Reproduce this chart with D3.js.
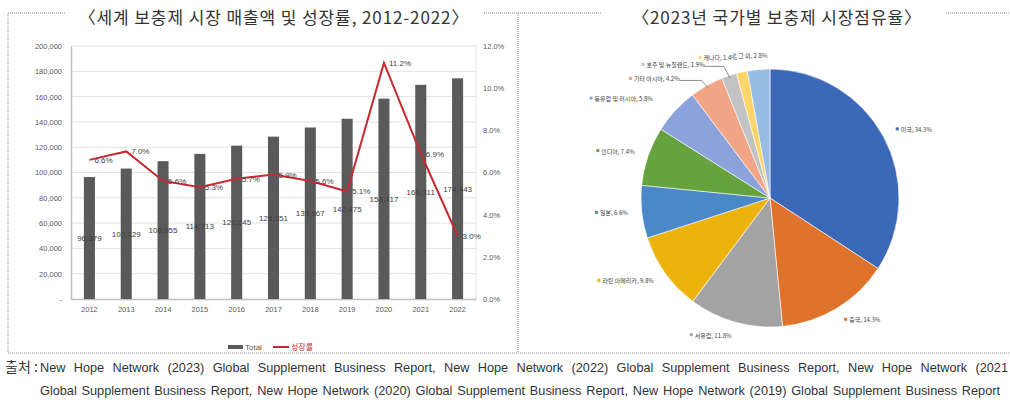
<!DOCTYPE html>
<html>
<head>
<meta charset="utf-8">
<script src="https://cdn.jsdelivr.net/npm/d3@7"></script>
<style>
  body { margin: 0; background: #fff; }
  svg { display: block; }
</style>
</head>
<body>
<div class="canvas"></div>
<script>
// bar + line chart data
const years = ['2012','2013','2014','2015','2016','2017','2018','2019','2020','2021','2022']
const totals = [96379, 103129, 108955, 114713, 121245, 128351, 135567, 142475, 158417, 169311, 174443]
const growth = [6.6, 7.0, 5.6, 5.3, 5.7, 5.9, 5.6, 5.1, 11.2, 6.9, 3.0]
const leftTicks = [0, 20000, 40000, 60000, 80000, 100000, 120000, 140000, 160000, 180000, 200000]
const rightTicks = [0, 2, 4, 6, 8, 10, 12]

// pie data
const countries = ['미국','중국','서유럽','라틴 아메리카','일본','인디아','동유럽 및 러시아','기타 아시아','호주 및 뉴질랜드','캐나다','그 외']
const shares = [34.3, 14.3, 11.8, 9.8, 6.6, 7.4, 5.8, 4.2, 1.9, 1.4, 2.8]
const pieColors = ['#3c68b8','#e0732b','#a3a3a3','#ebb30c','#4b88c8','#66a23e','#8ba3da','#f2a487','#c2c2c2','#fbd56a','#97bde6']

const W = 1010, H = 403
const svg = d3.select('.canvas').append('svg')
    .attr('width', W)
    .attr('height', H)

const cjk = '"Noto Sans CJK KR", sans-serif'
const small = '"Liberation Sans", "Noto Sans CJK KR", sans-serif'

//dotted panel frames
const frame = svg.append('g')
    .attr('stroke', '#8c8c8c')
    .attr('stroke-width', 1)
    .attr('stroke-dasharray', '1,1')
    .attr('fill', 'none')
frame.append('path').attr('d', 'M8,13H66 M484,13H602 M946,13H1010')
frame.append('path').attr('d', 'M8,13V353 M518,13V353')
frame.append('path').attr('d', 'M8,353H1010')

// titles
svg.append('text')
    .attr('x', 274).attr('y', 24)
    .attr('text-anchor', 'middle')
    .attr('fill', '#333')
    .style('font-family', cjk)
    .style('font-size', '17px')
    .style('letter-spacing', '0.9px')
    .text('〈세계 보충제 시장 매출액 및 성장률, 2012-2022〉')

svg.append('text')
    .attr('x', 777).attr('y', 24)
    .attr('text-anchor', 'middle')
    .attr('fill', '#333')
    .style('font-family', cjk)
    .style('font-size', '17px')
    .style('letter-spacing', '0.9px')
    .text('〈2023년 국가별 보충제 시장점유율〉')

// ---------- left chart ----------
const plot = { left: 71, right: 476, top: 46, bottom: 299 }

const x = d3.scaleBand().domain(years).range([plot.left, plot.right])
const yL = d3.scaleLinear().domain([0, 200000]).range([plot.bottom, plot.top])
const yR = d3.scaleLinear().domain([0, 12]).range([plot.bottom, plot.top])

const chart = svg.append('g')

//gridlines
chart.append('g')
    .selectAll('line')
    .data(leftTicks.slice(1))
    .join('line')
    .attr('x1', plot.left).attr('x2', plot.right)
    .attr('y1', d => yL(d)).attr('y2', d => yL(d))
    .attr('stroke', '#e3e3e3')
    .attr('stroke-width', 1)

chart.append('line')
    .attr('x1', plot.right).attr('x2', plot.right)
    .attr('y1', plot.top).attr('y2', plot.bottom)
    .attr('stroke', '#e3e3e3')

// left axis
const leftAxis = chart.append('g')
    .attr('transform', `translate(${plot.left},0)`)
    .call(d3.axisLeft(yL).tickValues(leftTicks).tickSize(0).tickPadding(9)
        .tickFormat(d => d === 0 ? '-' : d3.format(',')(d)))
leftAxis.select('.domain').attr('stroke', '#bfbfbf').attr('stroke-width', 1.5)
leftAxis.selectAll('text').attr('fill', '#595959').style('font-family', small).style('font-size', '7.5px')

// right axis
const rightAxis = chart.append('g')
    .attr('transform', `translate(${plot.right},0)`)
    .call(d3.axisRight(yR).tickValues(rightTicks).tickSize(0).tickPadding(7)
        .tickFormat(d => d.toFixed(1) + '%'))
rightAxis.select('.domain').remove()
rightAxis.selectAll('text').attr('fill', '#595959').style('font-family', small).style('font-size', '7.5px')

// bottom axis
const bottomAxis = chart.append('g')
    .attr('transform', `translate(0,${plot.bottom})`)
    .call(d3.axisBottom(x).tickSize(0).tickPadding(8))
bottomAxis.select('.domain').attr('stroke', '#bfbfbf').attr('stroke-width', 1.5)
bottomAxis.selectAll('text').attr('fill', '#595959').style('font-family', small).style('font-size', '7.5px')

// bars
const barW = x.bandwidth() * 0.3
chart.append('g')
    .selectAll('rect')
    .data(totals)
    .join('rect')
    .attr('x', (d, i) => x(years[i]) + (x.bandwidth() - barW) / 2)
    .attr('y', d => yL(d))
    .attr('width', barW)
    .attr('height', d => plot.bottom - yL(d))
    .attr('fill', '#5a5a5a')

// bar value labels
chart.append('g')
    .selectAll('text')
    .data(totals)
    .join('text')
    .attr('x', (d, i) => x(years[i]) + x.bandwidth() / 2)
    .attr('y', d => (yL(d) + plot.bottom) / 2 + 3)
    .attr('text-anchor', 'middle')
    .attr('fill', '#404040')
    .style('font-family', small)
    .style('font-size', '8px')
    .text(d => d3.format(',')(d))

// growth line
const line = d3.line()
    .x((d, i) => x(years[i]) + x.bandwidth() / 2)
    .y(d => yR(d))
chart.append('path')
    .datum(growth)
    .attr('d', line)
    .attr('fill', 'none')
    .attr('stroke', '#c62a31')
    .attr('stroke-width', 2)

chart.append('g')
    .selectAll('text')
    .data(growth)
    .join('text')
    .attr('x', (d, i) => x(years[i]) + x.bandwidth() / 2 + 5)
    .attr('y', d => yR(d) + 3)
    .attr('fill', '#404040')
    .style('font-family', small)
    .style('font-size', '8px')
    .text(d => d.toFixed(1) + '%')

// legend
const legend = chart.append('g').attr('transform', 'translate(228,347)')
legend.append('rect').attr('x', 0).attr('y', -2).attr('width', 15).attr('height', 4).attr('fill', '#5a5a5a')
legend.append('text').attr('x', 17).attr('y', 3)
    .attr('fill', '#595959').style('font-family', small).style('font-size', '8px').text('Total')
legend.append('line').attr('x1', 45).attr('x2', 61).attr('y1', 0).attr('y2', 0)
    .attr('stroke', '#c62a31').attr('stroke-width', 2)
legend.append('text').attr('x', 63).attr('y', 3)
    .attr('fill', '#c62a31').style('font-family', cjk).style('font-size', '8px').text('성장률')

// ---------- pie ----------
const cx = 770, cy = 198, r = 129
const pieG = svg.append('g').attr('transform', `translate(${cx},${cy})`)
const pie = d3.pie().sort(null).value(d => d)
const arcs = pie(shares)
const arc = d3.arc().innerRadius(0).outerRadius(r)

pieG.selectAll('path')
    .data(arcs)
    .join('path')
    .attr('d', arc)
    .attr('fill', (d, i) => pieColors[i])
    .attr('stroke', '#fff')
    .attr('stroke-width', 0.6)

// label nudges for crowded small slices (layout only)
const nudge = [[0,0],[0,0],[0,0],[0,0],[0,0],[0,0],[-12,-2],[-20,6],[-20,3],[-2,0],[10,0]]
const leader = [false,false,false,false,false,false,false,true,true,false,false]

arcs.forEach((d, i) => {
    const a = (d.startAngle + d.endAngle) / 2
    const R = r + 14
    let px = Math.sin(a) * R + nudge[i][0]
    let py = -Math.cos(a) * R + nudge[i][1]
    const right = Math.sin(a) > 0.05
    const g = pieG.append('g')
    const t = g.append('text')
        .attr('x', 5).attr('y', 2)
        .attr('fill', '#404040')
        .style('font-family', cjk)
        .style('font-size', '6px')
        .text(countries[i] + ', ' + shares[i].toFixed(1) + '%')
    g.append('rect').attr('x', 0).attr('y', -2.5).attr('width', 3).attr('height', 3).attr('fill', pieColors[i])
    const w = 5 + t.node().getComputedTextLength()
    const gx = right ? px : px - w
    g.attr('transform', `translate(${gx},${py})`)
    if (leader[i]) {
        const ex = Math.sin(a) * (r - 2), ey = -Math.cos(a) * (r - 2)
        pieG.append('polyline')
            .attr('points', `${px},${py + 1} ${ex - 6},${py + 1} ${ex},${ey}`)
            .attr('fill', 'none')
            .attr('stroke', '#404040')
            .attr('stroke-width', 0.6)
    }
})

// ---------- source note ----------
const notes = [
    { x0: 40, x1: 1008, text: 'New Hope Network (2023) Global Supplement Business Report, New Hope Network (2022) Global Supplement Business Report, New Hope Network (2021', y: 372 },
    { x0: 40, x1: 1000, text: 'Global Supplement Business Report, New Hope Network (2020) Global Supplement Business Report, New Hope Network (2019) Global Supplement Business Report', y: 395 }
]
svg.append('text')
    .attr('x', 5).attr('y', 372)
    .attr('fill', '#333')
    .style('font-family', cjk)
    .style('font-size', '14px')
    .text('출처 :')

const noteTexts = notes.map(n => svg.append('text')
    .attr('x', n.x0).attr('y', n.y)
    .attr('fill', '#333')
    .style('font-family', small)
    .style('font-size', '14px')
    .text(n.text))

// pick one font size that leaves some room for justified word gaps
let fs = 14
notes.forEach((n, i) => {
    const len = noteTexts[i].node().getComputedTextLength()
    const spaces = n.text.split(' ').length - 1
    fs = Math.min(fs, 14 * (n.x1 - n.x0 - spaces * 1.2) / len)
})
notes.forEach((n, i) => {
    const t = noteTexts[i].style('font-size', fs + 'px')
    const len = t.node().getComputedTextLength()
    const spaces = n.text.split(' ').length - 1
    t.style('word-spacing', ((n.x1 - n.x0 - len) / spaces) + 'px')
})
</script>
</body>
</html>
